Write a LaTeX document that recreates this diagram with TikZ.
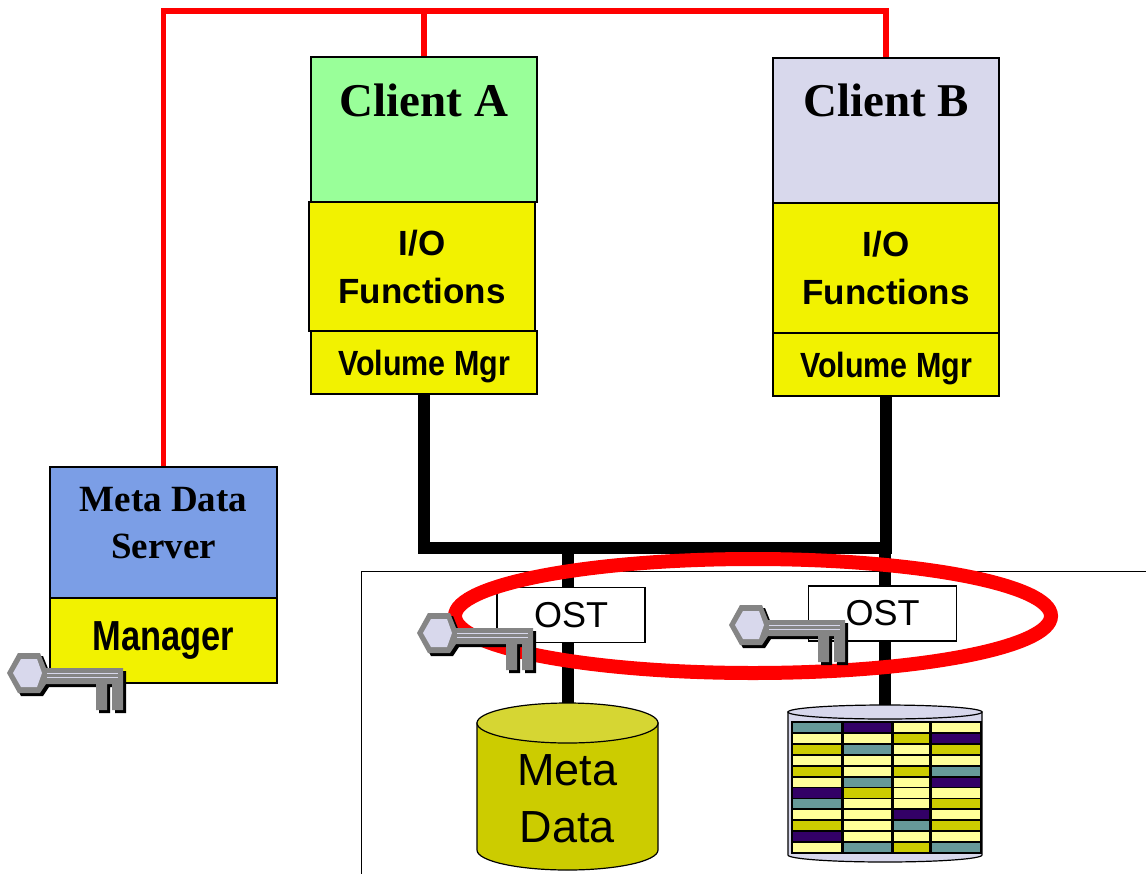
\documentclass[tikz,border=0pt]{standalone}
\usepackage{fontspec}
\usepackage{graphicx}
\setmainfont{Liberation Serif}
\setsansfont{Liberation Sans}
\usetikzlibrary{shapes.geometric}
\definecolor{cgreen}{HTML}{99FF99}
\definecolor{clav}{HTML}{D8D8EC}
\definecolor{ioyel}{HTML}{F2F200}
\definecolor{mdsblue}{HTML}{7B9EE6}
\definecolor{colive}{HTML}{CCCC00}
\definecolor{colivetop}{HTML}{D6D633}
\definecolor{cpale}{HTML}{FFFF99}
\definecolor{cteal}{HTML}{669999}
\definecolor{cpurp}{HTML}{330066}
\definecolor{keygray}{HTML}{858585}

\begin{document}
\begin{tikzpicture}[x=0.5pt, y=-0.5pt,
  box/.style={draw=black, line width=0.75pt, inner sep=0pt, align=center},
  topbox/.style={box, minimum width=113pt, minimum height=72.5pt},
  iobox/.style={box, fill=ioyel, minimum width=113pt, minimum height=64.5pt,
    font=\sffamily\bfseries\fontsize{17.5}{24}\selectfont},
  volbox/.style={box, fill=ioyel, minimum width=113pt, minimum height=31.5pt, text depth=0pt,
    font=\sffamily\bfseries\fontsize{17.5}{20}\selectfont},
  ostbox/.style={box, fill=white, line width=0.6pt, minimum width=74pt, minimum height=27.5pt,
    font=\sffamily\fontsize{18}{20}\selectfont},
  title/.style={inner sep=0pt, font=\bfseries\fontsize{23.5}{28}\selectfont},
  redwire/.style={draw=red, line width=2.75pt},
  busline/.style={draw=black, line width=6pt},
  cell/.style={draw=black, line width=0.9pt},
  keypic/.pic={
    % black shadow first, then the grey key on top
    \foreach \dd/\kc in {3/black, 0/keygray}
      \fill[\kc, shift={(\dd,\dd)}] (0,20) -- (11,0) -- (33,0) -- (39,15) -- (116,15) -- (116,57)
        -- (105,57) -- (105,31) -- (100,31) -- (100,57) -- (89,57) -- (89,31) -- (39,31)
        -- (33,40) -- (11,40) -- cycle;
    \fill[clav] (6,20) -- (14,6) -- (30,6) -- (35,20) -- (30,34) -- (14,34) -- cycle;
    \draw[clav, line width=0.6pt] (40,20.5) -- (111,20.5) (40,24.5) -- (111,24.5);
  }]
\useasboundingbox (0,0) rectangle (1146,873);
\clip (0,0) rectangle (1146,873);

% ---------------- storage site frame
\node[draw, line width=0.6pt, anchor=north west, minimum width=420pt, minimum height=170pt] (site) at (361,571) {};

% ---------------- clients A and B
\node[topbox, fill=cgreen] (ca) at (424,129.5) {};
\node[iobox] (caio) at (422,266.5) {I/O\\Functions};
\node[volbox] (cavol) at (424,362.5) {\scalebox{0.87}[1]{Volume Mgr}};
\node[title] (catitle) at (424,100) {Client A};

\node[topbox, fill=clav] (cb) at (886,130.5) {};
\node[iobox] (cbio) at (886,268) {I/O\\Functions};
\node[volbox] (cbvol) at (886,364.5) {\scalebox{0.87}[1]{Volume Mgr}};
\node[title] (cbtitle) at (886,100) {Client B};

% ---------------- meta data server
\node[box, fill=mdsblue, minimum width=113.5pt, minimum height=65.5pt] (mds) at (163.5,532.5) {};
\node[inner sep=0pt, align=center, font=\bfseries\fontsize{18.5}{23.5}\selectfont] (mdstitle) at (163.5,523) {Meta Data\\Server};
\node[box, fill=ioyel, minimum width=113.5pt, minimum height=42.5pt,
      font=\sffamily\bfseries\fontsize{21}{24}\selectfont] (mgr) at (163.5,640.5) {\scalebox{0.82}[1]{Manager}};

% ---------------- control wires
\coordinate (wiretop) at (424,11);
\draw[redwire] (mds.north) -- (mds.north |- wiretop) -- (cb.north |- wiretop) -- (cb.north);
\draw[redwire] (ca.north |- wiretop) -- (ca.north);

% ---------------- data bus
\coordinate (bus) at (655,548);
\coordinate (metatop) at (567.5,723);
\coordinate (disktop) at (885,712);
\draw[busline] (cavol.south) -- (cavol.south |- bus) -- (cbvol.south |- bus) -- (cbvol.south);
\draw[busline] (bus -| metatop) -- (metatop);
\draw[busline] (bus -| disktop) -- (disktop);

\node[ostbox] (ost1) at (571,615) {OST};
\node[ostbox] (ost2) at (882.5,613.5) {OST};

% ---------------- meta data store
\filldraw[fill=colive, line width=0.6pt] (477,723) -- (477,850)
  arc[start angle=180, end angle=0, x radius=90.5, y radius=20] -- (658,723) -- cycle;
\filldraw[fill=colivetop, line width=0.6pt] (metatop) ellipse [x radius=90.5, y radius=20];
\node[align=center, inner sep=0pt, font=\sffamily\fontsize{22.5}{28.5}\selectfont] (meta) at (567.5,798.5) {Meta\\Data};

% ---------------- striped object disk
\filldraw[fill=clav, line width=0.6pt] (788,712) -- (788,855)
  arc[start angle=180, end angle=0, x radius=97, y radius=7] -- (982,712) -- cycle;
\foreach \cells [count=\r] in {{cteal,cpurp,cpale,cpale},{cpale,cpale,colive,cpurp},
    {colive,cteal,cpale,colive},{cpale,cpale,cpale,cpale},{colive,cpale,colive,cteal},
    {cpale,cteal,cpale,cpurp},{cpurp,colive,cpale,cpale},{cteal,cpale,cpale,colive},
    {cpale,cpale,cpurp,cpale},{colive,cpale,cteal,colive},{cpurp,cpale,cpale,cpale},
    {cpale,cteal,colive,cteal}}
  \foreach \cc [count=\c] in \cells {
    \pgfmathsetmacro\xl{{792,843,893,931}[\c-1]}
    \pgfmathsetmacro\xr{{842,892,930,981}[\c-1]}
    \pgfmathsetmacro\yt{722+(\r-1)*10.92}
    \filldraw[cell, fill=\cc] (\xl,\yt) rectangle (\xr,\yt+10.92);
  }
\filldraw[fill=clav, line width=0.6pt] (disktop) ellipse [x radius=97, y radius=7];

% ---------------- security ring and keys
\node[ellipse, draw=red, line width=7pt, minimum width=298pt, minimum height=57pt, inner sep=0pt] (ring) at (753,616) {};
\pic (mdskey) at (7,653) {keypic};
\pic (ostkeya) at (417,613) {keypic};
\pic (ostkeyb) at (729,605) {keypic};
\end{tikzpicture}
\end{document}
